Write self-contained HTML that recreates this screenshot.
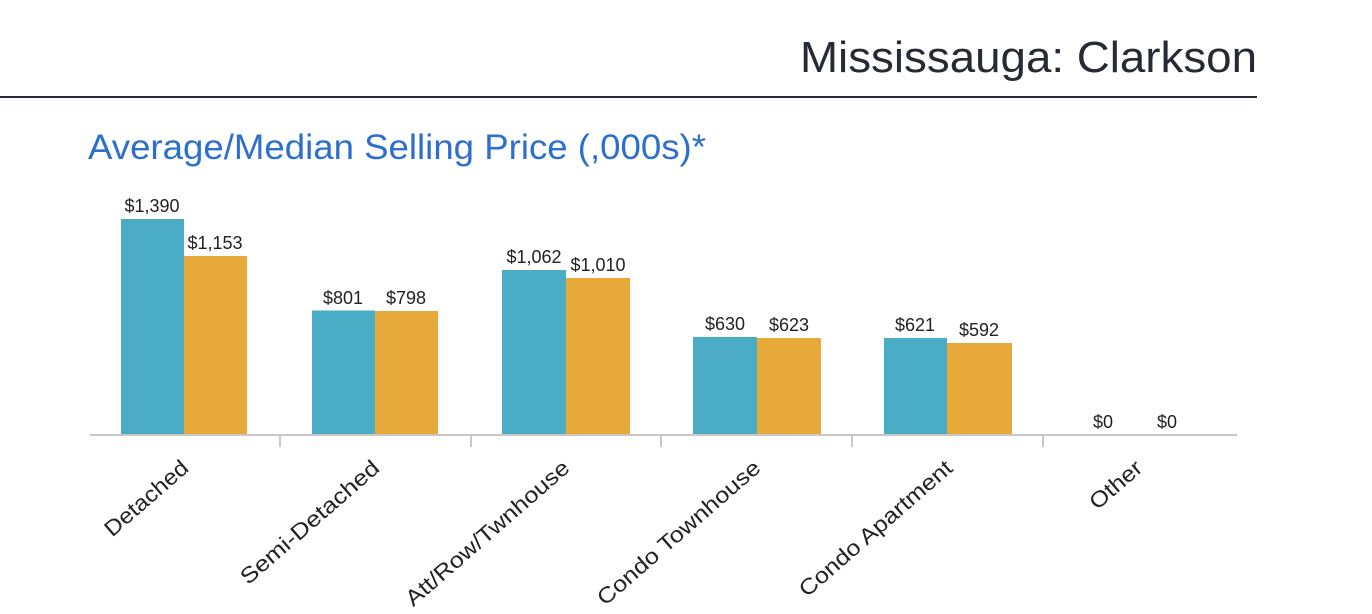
<!DOCTYPE html>
<html><head><style>
body{margin:0;background:#fff;width:1372px;height:614px;overflow:hidden}
svg{display:block}
text{font-family:"Liberation Sans",sans-serif}
</style></head><body>
<svg width="1372" height="614" viewBox="0 0 1372 614">
<text x="1257" y="72" text-anchor="end" font-size="44" fill="#262a35" textLength="457" lengthAdjust="spacingAndGlyphs">Mississauga: Clarkson</text>
<rect x="0" y="96" width="1257" height="2" fill="#262a35"/>
<text x="88" y="159" font-size="35" fill="#2d6fcf" textLength="618" lengthAdjust="spacingAndGlyphs">Average/Median Selling Price (,000s)*</text>
<g fill="#4bacc6">
<rect x="121" y="219" width="63" height="216"/>
<rect x="312" y="310.5" width="63" height="124.5"/>
<rect x="502" y="270" width="64" height="165"/>
<rect x="693" y="337" width="64" height="98"/>
<rect x="884" y="338" width="63" height="97"/>
</g>
<g fill="#e8a93b">
<rect x="184" y="256" width="63" height="179"/>
<rect x="375" y="311" width="63" height="124"/>
<rect x="566" y="278" width="64" height="157"/>
<rect x="757" y="338" width="64" height="97"/>
<rect x="947" y="343" width="65" height="92"/>
</g>
<g font-size="18" fill="#222" text-anchor="middle">
<text x="152" y="212">$1,390</text><text x="215" y="249">$1,153</text>
<text x="343" y="304">$801</text><text x="406" y="304">$798</text>
<text x="534" y="263">$1,062</text><text x="598" y="271">$1,010</text>
<text x="725" y="330">$630</text><text x="789" y="331">$623</text>
<text x="915" y="331">$621</text><text x="979" y="336">$592</text>
<text x="1103" y="428">$0</text><text x="1167" y="428">$0</text>
</g>
<rect x="90" y="434" width="1147" height="2" fill="#c8c8c8"/>
<g stroke="#c8c8c8" stroke-width="2">
<line x1="280" y1="435" x2="280" y2="447"/><line x1="471" y1="435" x2="471" y2="447"/>
<line x1="661" y1="435" x2="661" y2="447"/><line x1="852" y1="435" x2="852" y2="447"/>
<line x1="1043" y1="435" x2="1043" y2="447"/>
</g>
<g font-size="22" fill="#222" text-anchor="end">
<text transform="translate(190,470) rotate(-41)" textLength="103" lengthAdjust="spacingAndGlyphs">Detached</text>
<text transform="translate(381,470) rotate(-41)" textLength="176" lengthAdjust="spacingAndGlyphs">Semi-Detached</text>
<text transform="translate(571,470) rotate(-41)" textLength="209" lengthAdjust="spacingAndGlyphs">Att/Row/Twnhouse</text>
<text transform="translate(762,470) rotate(-41)" textLength="208" lengthAdjust="spacingAndGlyphs">Condo Townhouse</text>
<text transform="translate(954,470) rotate(-41)" textLength="195" lengthAdjust="spacingAndGlyphs">Condo Apartment</text>
<text transform="translate(1144,470) rotate(-41)" textLength="62" lengthAdjust="spacingAndGlyphs">Other</text>
</g>
</svg>
</body></html>
